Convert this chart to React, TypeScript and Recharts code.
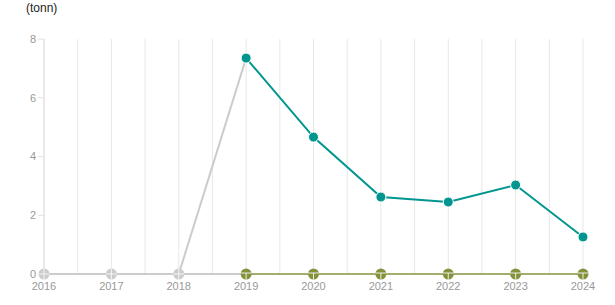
import React from "react";
import {
  LineChart,
  Line,
  XAxis,
  YAxis,
  CartesianGrid,
} from "recharts";

const years = [2016, 2017, 2018, 2019, 2020, 2021, 2022, 2023, 2024];
// before 2019 the line rises from zero to the first reported value
const earlyValues = [0, 0, 0, 7.35, null, null, null, null, null];
const earlyZero = [null, null, 0, 0, null, null, null, null, null];
const reported = [null, null, null, 7.35, 4.66, 2.62, 2.45, 3.03, 1.26];
const baseline = [null, null, null, 0, 0, 0, 0, 0, 0];

const yTicks = [0, 2, 4, 6, 8];
const gridTicks = years.flatMap((y, i) => (i < years.length - 1 ? [y, y + 0.5] : [y]));

const TEAL = "#00968f";
const OLIVE = "#84923c";
const GREY = "#cccccc";

const data = years.map((year, i) => ({
  year,
  early: earlyValues[i],
  earlyZero: earlyZero[i],
  reported: reported[i],
  baseline: baseline[i],
}));

// vertical grid at every year and half year
const gridX = ({ xAxis, offset }: any) => {
  if (xAxis && typeof xAxis.scale === "function") {
    return gridTicks.map((t) => xAxis.scale(t));
  }
  const lo = years[0];
  const hi = years[years.length - 1];
  return gridTicks.map((t) => offset.left + ((t - lo) / (hi - lo)) * offset.width);
};

const CrossDot: React.FC<any> = ({ cx, cy, payload, index }) => {
  if (cx == null || cy == null || payload.year >= 2019) return null;
  return (
    <g key={`gd-${index}`}>
      <circle cx={cx} cy={cy} r={5.5} fill={GREY} />
      <line x1={cx - 5.5} x2={cx + 5.5} y1={cy} y2={cy} stroke="#fff" strokeWidth={1} opacity={0.8} />
      <line x1={cx} x2={cx} y1={cy - 5.5} y2={cy + 5.5} stroke="#fff" strokeWidth={1} opacity={0.8} />
    </g>
  );
};

const TeeDot: React.FC<any> = ({ cx, cy, index }) => {
  if (cx == null || cy == null) return null;
  return (
    <g key={`od-${index}`}>
      <circle cx={cx} cy={cy} r={5.5} fill={OLIVE} />
      <line x1={cx - 5.5} x2={cx + 5.5} y1={cy - 1} y2={cy - 1} stroke="#fff" strokeWidth={1} opacity={0.85} />
      <line x1={cx} x2={cx} y1={cy - 1} y2={cy + 5.5} stroke="#fff" strokeWidth={1} opacity={0.85} />
    </g>
  );
};

const tickStyle = { fill: "#999", fontSize: 11, fontFamily: "Liberation Sans, Arial, sans-serif" };

export default function App() {
  return (
    <div style={{ position: "absolute", left: 0, top: 0, width: 615, height: 305, background: "#fff" }}>
      <div
        style={{
          position: "absolute",
          left: 26,
          top: 1,
          fontSize: 12,
          fontFamily: "Liberation Sans, Arial, sans-serif",
          color: "#222",
        }}
      >
        (tonn)
      </div>
      <LineChart
        width={615}
        height={305}
        data={data}
        margin={{ top: 39, right: 32, bottom: 0, left: 0 }}
      >
        <CartesianGrid
          horizontal={false}
          verticalCoordinatesGenerator={gridX}
          stroke="#e8e8e8"
          strokeWidth={1}
        />
        <XAxis
          dataKey="year"
          type="number"
          domain={[2016, 2024]}
          ticks={years}
          axisLine={false}
          tickLine={false}
          tick={tickStyle}
          tickMargin={2}
          height={31}
        />
        <YAxis
          type="number"
          domain={[0, 8]}
          ticks={yTicks}
          width={44}
          axisLine={{ stroke: "#e0e0e0" }}
          tickLine={{ stroke: "#e0e0e0" }}
          tickSize={6}
          tickMargin={2}
          tick={tickStyle}
        />
        <Line
          dataKey="earlyZero"
          stroke={GREY}
          strokeWidth={2}
          dot={false}
          isAnimationActive={false}
        />
        <Line
          dataKey="early"
          stroke={GREY}
          strokeWidth={2}
          dot={<CrossDot />}
          isAnimationActive={false}
        />
        <Line
          dataKey="baseline"
          stroke={OLIVE}
          strokeWidth={1.5}
          dot={<TeeDot />}
          isAnimationActive={false}
        />
        <Line
          dataKey="reported"
          stroke={TEAL}
          strokeWidth={2}
          dot={{ r: 5, fill: TEAL, stroke: "#fff", strokeWidth: 1 }}
          isAnimationActive={false}
        />
      </LineChart>
    </div>
  );
}
